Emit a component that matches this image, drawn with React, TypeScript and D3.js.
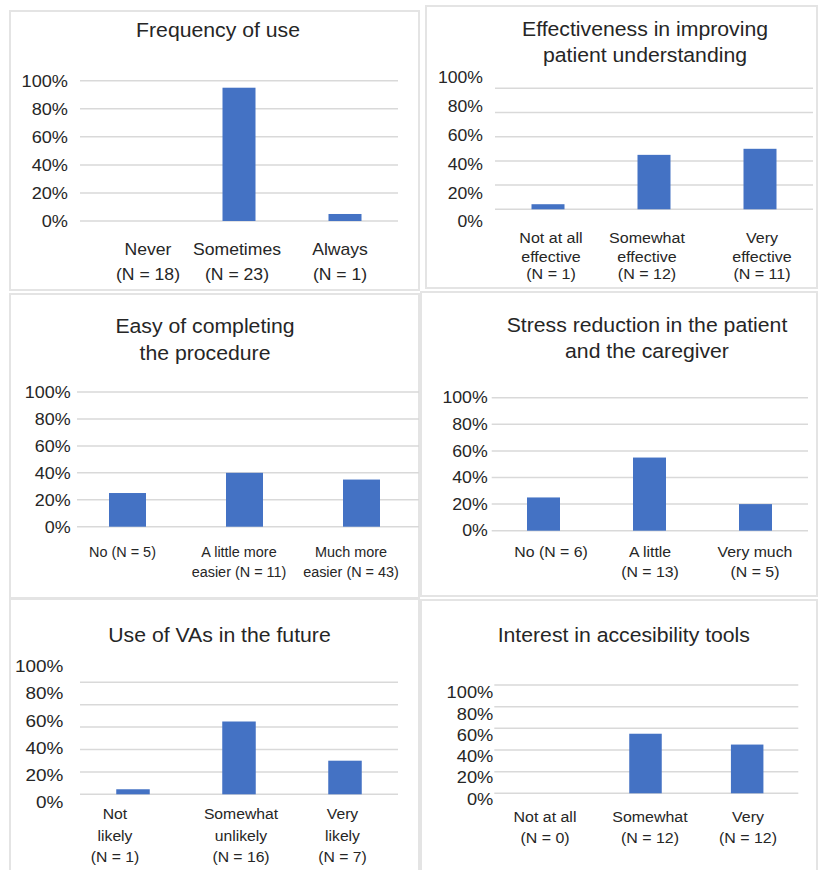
import React from "react";
import * as d3 from "d3";

// ---------- data ----------
const tickValues = [0, 20, 40, 60, 80, 100];
const tickLabels = ["0%", "20%", "40%", "60%", "80%", "100%"];

const freqTitle = ["Frequency of use"];
const freqCategories = [["Never", "(N = 18)"], ["Sometimes", "(N = 23)"], ["Always", "(N = 1)"]];
const freqValues = [0, 95, 5];

const effTitle = ["Effectiveness in improving", "patient understanding"];
const effCategories = [["Not at all", "effective", "(N = 1)"], ["Somewhat", "effective", "(N = 12)"], ["Very", "effective", "(N = 11)"]];
const effValues = [4.2, 45, 50];

const easeTitle = ["Easy of completing", "the procedure"];
const easeCategories = [["No (N = 5)"], ["A little more", "easier (N = 11)"], ["Much more", "easier (N = 43)"]];
const easeValues = [25, 40, 35];

const stressTitle = ["Stress reduction in the patient", "and the caregiver"];
const stressCategories = [["No (N = 6)"], ["A little", "(N = 13)"], ["Very much", "(N = 5)"]];
const stressValues = [25, 55, 20];

const futureTitle = ["Use of VAs in the future"];
const futureCategories = [["Not", "likely", "(N = 1)"], ["Somewhat", "unlikely", "(N = 16)"], ["Very", "likely", "(N = 7)"]];
const futureValues = [4.5, 65, 30];

const interestTitle = ["Interest in accesibility tools"];
const interestCategories = [["Not at all", "(N = 0)"], ["Somewhat", "(N = 12)"], ["Very", "(N = 12)"]];
const interestValues = [0, 55, 45];

// ---------- layout ----------
const FONT = "'Liberation Sans', Arial, Helvetica, sans-serif";
const TEXT = "#262626";
const BAR = "#4472C4";
const GRID = "#d9d9d9";
const FRAME = "#e4e4e4";
const SX = 1.1;

const panels = [
  {
    title: freqTitle, cats: freqCategories, vals: freqValues,
    frame: [10, 11, 419, 290], gridX: [80, 398], gridY: [221, 80.7], bandX: [80, 398], barW: 33,
    tickX: 68, tickY: [221, 80.7], tickFont: 16.5,
    titleX: 218, titleY: [37], titleFont: 19.3,
    labelX: [148, 237, 340], labelY: [255, 280], labelFont: 16, labelSx: SX,
  },
  {
    title: effTitle, cats: effCategories, vals: effValues,
    frame: [426, 6, 817, 288], gridX: [495, 813], gridY: [209.3, 88.3], bandX: [495, 813], barW: 33,
    tickX: 483, tickY: [221.7, 77.5], tickFont: 16,
    titleX: 645, titleY: [36, 62], titleFont: 19.3,
    labelX: [551, 647, 762], labelY: [243, 261.5, 279], labelFont: 14.6, labelSx: SX,
  },
  {
    title: easeTitle, cats: easeCategories, vals: easeValues,
    frame: [10, 294, 419, 598], gridX: [77, 419], gridY: [526.7, 392], bandX: [69, 420], barW: 37,
    tickX: 70.7, tickY: [526.7, 392], tickFont: 16.3,
    titleX: 205, titleY: [333, 359.5], titleFont: 19.3,
    labelX: [122.5, 239, 351], labelY: [557, 577], labelFont: 14, labelSx: 1.03,
  },
  {
    title: stressTitle, cats: stressCategories, vals: stressValues,
    frame: [421, 292, 817, 596], gridX: [491.7, 808], gridY: [530.7, 397.7], bandX: [490.5, 808.5], barW: 33,
    tickX: 487.7, tickY: [530.7, 397.7], tickFont: 16.1,
    titleX: 647, titleY: [331.7, 358], titleFont: 19.3,
    labelX: [551, 650, 755], labelY: [557, 577], labelFont: 14.4, labelSx: SX,
  },
  {
    title: futureTitle, cats: futureCategories, vals: futureValues,
    frame: [10, 599, 419, 874], gridX: [80, 398], gridY: [794.3, 682.3], bandX: [80, 398], barW: 33.5,
    tickX: 63.3, tickY: [802.3, 665.7], tickFont: 17.2,
    titleX: 219.5, titleY: [641.7], titleFont: 19.3,
    labelX: [115, 241, 342.5], labelY: [819, 840.5, 862], labelFont: 14.3, labelSx: SX,
  },
  {
    title: interestTitle, cats: interestCategories, vals: interestValues,
    frame: [421, 600, 817, 874], gridX: [494.3, 798.3], gridY: [793.3, 685], bandX: [493, 798], barW: 32.5,
    tickX: 493.3, tickY: [798.7, 692.3], tickFont: 16.6,
    titleX: 623.8, titleY: [641.7], titleFont: 19.3,
    labelX: [545, 650, 748], labelY: [821.7, 843.3], labelFont: 14.5, labelSx: SX,
  },
];

function SText({ x, y, size, anchor, sx, children }: any) {
  return (
    <text
      transform={`translate(${x},${y}) scale(${sx},1)`}
      textAnchor={anchor}
      fontSize={size}
      fontFamily={FONT}
      fill={TEXT}
    >
      {children}
    </text>
  );
}

function Panel({ p }: any) {
  const y = d3.scaleLinear().domain([0, 100]).range(p.gridY);
  const yLabel = d3.scaleLinear().domain([0, 100]).range(p.tickY);
  const names = p.cats.map((c: string[]) => c.join(" "));
  const step = (p.bandX[1] - p.bandX[0]) / names.length;
  const pad = 1 - p.barW / step;
  const x = d3.scaleBand().domain(names).range(p.bandX).paddingInner(pad).paddingOuter(pad / 2);
  const [fx0, fy0, fx1, fy1] = p.frame;
  return (
    <g>
      <rect x={fx0} y={fy0} width={fx1 - fx0} height={fy1 - fy0} fill="#fff" stroke={FRAME} strokeWidth={2} />
      {p.title.map((t: string, i: number) => (
        <SText key={"t" + i} x={p.titleX} y={p.titleY[i]} size={p.titleFont} anchor="middle" sx={SX}>{t}</SText>
      ))}
      {tickValues.map((v) => (
        <line key={"g" + v} x1={p.gridX[0]} x2={p.gridX[1]} y1={y(v)} y2={y(v)} stroke={GRID} strokeWidth={1.5} />
      ))}
      {tickValues.map((v, i) => (
        <SText key={"k" + v} x={p.tickX} y={yLabel(v) + p.tickFont * 0.36} size={p.tickFont} anchor="end" sx={SX}>
          {tickLabels[i]}
        </SText>
      ))}
      {p.vals.map((v: number, i: number) => (
        <rect key={"b" + i} x={x(names[i])} y={y(v)} width={x.bandwidth()} height={Math.max(0, y(0) - y(v))} fill={BAR} />
      ))}
      {p.cats.map((lines: string[], i: number) =>
        lines.map((l: string, j: number) => (
          <SText key={"l" + i + "_" + j} x={p.labelX[i]} y={p.labelY[j]} size={p.labelFont} anchor="middle" sx={p.labelSx}>
            {l}
          </SText>
        ))
      )}
    </g>
  );
}

export default function App() {
  return (
    <svg width={819} height={870} style={{ position: "absolute", left: 0, top: 0, background: "#fff" }}>
      <rect x={0} y={0} width={819} height={870} fill="#fff" />
      {panels.map((p, i) => (
        <Panel key={i} p={p} />
      ))}
    </svg>
  );
}
